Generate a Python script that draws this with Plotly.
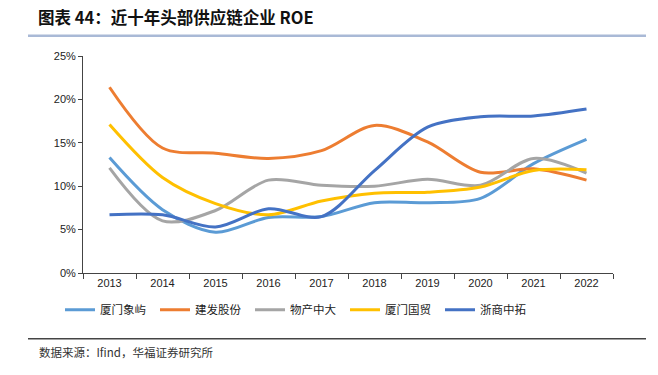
import plotly.graph_objects as go

years = ["2013", "2014", "2015", "2016", "2017", "2018", "2019", "2020", "2021", "2022"]
xiamen_xiangyu = [13.3, 7.3, 4.7, 6.4, 6.5, 8.1, 8.1, 8.6, 12.6, 15.4]
jianfa_gufen = [21.4, 14.4, 13.8, 13.2, 14.1, 17.0, 15.1, 11.6, 12.0, 10.7]
wuchan_zhongda = [12.1, 6.0, 7.2, 10.7, 10.1, 10.0, 10.8, 10.1, 13.2, 11.5]
xiamen_guomao = [17.1, 11.0, 8.0, 6.7, 8.3, 9.2, 9.3, 9.9, 11.8, 11.9]
zheshang_zhongtuo = [6.7, 6.7, 5.3, 7.4, 6.5, 11.8, 16.8, 18.0, 18.1, 18.9]

series_names = ["厦门象屿", "建发股份", "物产中大", "厦门国贸", "浙商中拓"]
series_values = [xiamen_xiangyu, jianfa_gufen, wuchan_zhongda, xiamen_guomao, zheshang_zhongtuo]
colors = ["#5B9BD5", "#ED7D31", "#A5A5A5", "#FFC000", "#4472C4"]

fig = go.Figure()
for name, vals, c in zip(series_names, series_values, colors):
    fig.add_trace(go.Scatter(
        x=years, y=[v / 100 for v in vals], name=name, mode="lines",
        line=dict(color=c, width=3, shape="spline", smoothing=0.9),
    ))

PW, PH = 530, 216.7
fig.update_layout(
    width=658, height=375,
    margin=dict(l=83, r=45, t=56, b=102.3, autoexpand=False),
    paper_bgcolor="white", plot_bgcolor="white",
    font=dict(family="Liberation Sans, Arial, sans-serif", size=11, color="#222"),
    showlegend=True,
    legend=dict(
        orientation="h", x=(60 - 83) / PW, xanchor="left",
        y=-(295 - 272.7) / PH, yanchor="top",
        entrywidth=50, entrywidthmode="pixels",
        font=dict(family="Noto Sans CJK SC", size=11.5, color="#222"),
        itemwidth=30, bgcolor="rgba(0,0,0,0)",
    ),
    xaxis=dict(
        type="category", range=[-0.5, 9.5], automargin=False,
        showline=True, linecolor="#444", linewidth=1,
        ticks="outside", tickson="boundaries", ticklen=5, tickcolor="#444",
        showgrid=False, zeroline=False,
        tickfont=dict(size=11, color="#222"),
    ),
    yaxis=dict(
        range=[0, 0.25], dtick=0.05, tickformat=".0%", automargin=False,
        showline=True, linecolor="#444", linewidth=1,
        ticks="outside", ticklen=4, tickcolor="#444",
        showgrid=False, zeroline=False,
        tickfont=dict(size=11, color="#222"),
    ),
)

fig.add_annotation(
    text="<b>图表 44：近十年头部供应链企业 ROE</b>",
    xref="paper", yref="paper", x=(37 - 83) / PW, y=1 + (56 - 17) / PH,
    xanchor="left", yanchor="middle", showarrow=False, borderpad=0,
    font=dict(family="Noto Sans CJK SC", size=16.5, color="#111"),
)
fig.add_annotation(
    text="数据来源：Ifind，华福证券研究所",
    xref="paper", yref="paper", x=(37 - 83) / PW, y=-(352 - 272.7) / PH,
    xanchor="left", yanchor="middle", showarrow=False,
    font=dict(family="Noto Sans CJK SC", size=11.5, color="#333"),
)
fig.add_shape(type="line", xref="paper", yref="paper",
              x0=(28 - 83) / PW, x1=(646 - 83) / PW,
              y0=1 + (56 - 35.7) / PH, y1=1 + (56 - 35.7) / PH,
              line=dict(color="#A9B9D6", width=2.5))
fig.add_shape(type="line", xref="paper", yref="paper",
              x0=(28 - 83) / PW, x1=(646 - 83) / PW,
              y0=-(338.3 - 272.7) / PH, y1=-(338.3 - 272.7) / PH,
              line=dict(color="#444", width=1.5))

fig.write_html(
    "out.html",
    config={"displayModeBar": False},
    post_script="document.body.style.margin='0';document.body.style.overflow='hidden';",
)
